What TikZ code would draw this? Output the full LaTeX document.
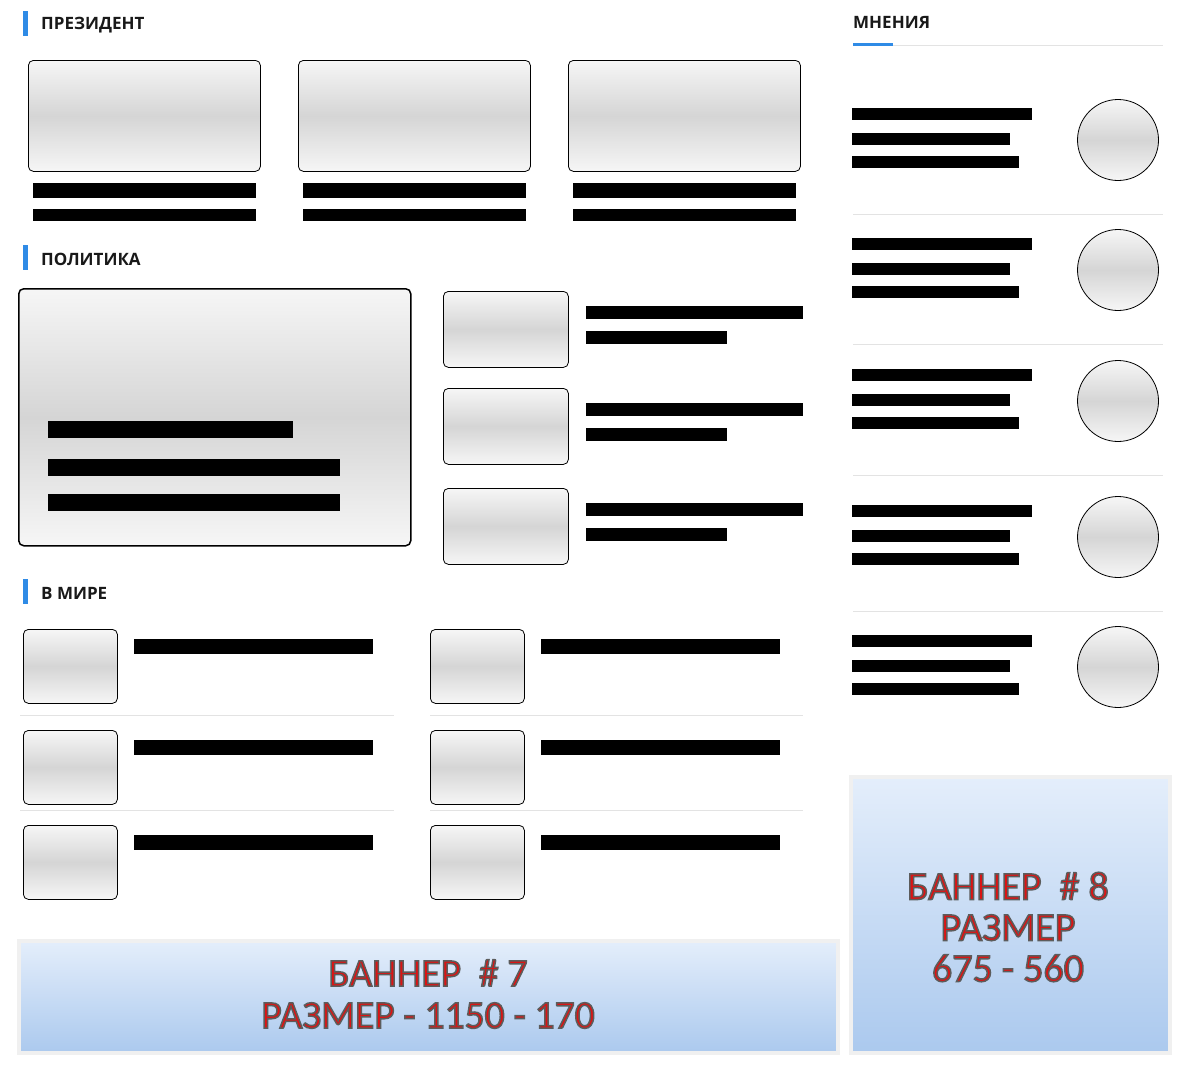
\documentclass[tikz,border=0pt]{standalone}
\usepackage{fontspec}
\setmainfont{Open Sans}
\newfontfamily\bannerfont{Carlito}
\usetikzlibrary{positioning}

\definecolor{accent}{HTML}{2F8BE6}
\definecolor{thlite}{HTML}{F6F6F6}
\definecolor{thmid}{HTML}{D5D5D5}
\definecolor{bantop}{HTML}{E4EEFB}
\definecolor{banbot}{HTML}{ABC9EE}
\definecolor{banred}{HTML}{DA1414}
\definecolor{rulegray}{HTML}{E3E3E3}

% outlined banner lettering (grey stroke, red fill)
\newcommand\outlined[1]{\special{pdf:literal direct 2 Tr 1.5 w 0.36 0.36 0.36 RG}#1\special{pdf:literal direct 0 Tr}}

\begin{document}
\begin{tikzpicture}
    [x=1pt, y=-1pt,
     thumb/.style={rectangle, draw=black, line width=0.8pt, rounded corners=5pt, top color=thlite, bottom color=thlite, middle color=thmid, anchor=north west, inner sep=0pt},
     face/.style={circle, draw=black, line width=0.8pt, top color=thlite, bottom color=thlite, middle color=thmid, minimum size=81pt, inner sep=0pt},
     bar/.style={rectangle, fill=black, anchor=north west, inner sep=0pt, minimum height=12pt},
     head/.style={anchor=west, inner sep=0pt, text=black!90, font=\bfseries\fontsize{17}{20}\selectfont},
     sep/.style={draw=rulegray, line width=1pt},
     banner/.style={rectangle, draw=black!6, line width=4pt, top color=bantop, bottom color=banbot, anchor=north west, inner sep=0pt},
     bantext/.style={align=center, text=banred, font=\bannerfont\fontsize{39.5}{42}\selectfont}]

    \fill [white] (0,0) rectangle (1186,1068);
    \useasboundingbox (0,0) rectangle (1186,1068);

    % president
    \fill [accent] (23,11) rectangle (27.5,36);
    \node [head] (hpres) at (41,25.5) {ПРЕЗИДЕНТ};
    \node [thumb, minimum width=232pt, minimum height=111pt] (pr1) at (28,60) {};
    \node [thumb, minimum width=232pt, minimum height=111pt] (pr2) at (298,60) {};
    \node [thumb, minimum width=232pt, minimum height=111pt] (pr3) at (568,60) {};
    \node [bar, minimum width=223pt, minimum height=14.5pt] (pr1a) at (33,183) {};
    \node [bar, minimum width=223pt] (pr1b) at (33,209) {};
    \node [bar, minimum width=223pt, minimum height=14.5pt] (pr2a) at (303,183) {};
    \node [bar, minimum width=223pt] (pr2b) at (303,209) {};
    \node [bar, minimum width=223pt, minimum height=14.5pt] (pr3a) at (573,183) {};
    \node [bar, minimum width=223pt] (pr3b) at (573,209) {};

    % politics
    \fill [accent] (23,245) rectangle (27.5,270);
    \node [head] (hpol) at (41,259.5) {ПОЛИТИКА};
    \node [thumb, line width=1.5pt, minimum width=392pt, minimum height=257pt] (big) at (18,288) {};
    \node [bar, minimum width=245pt, minimum height=17pt] (biga) at (48,421) {};
    \node [bar, minimum width=292pt, minimum height=17pt] (bigb) at (48,459) {};
    \node [bar, minimum width=292pt, minimum height=17pt] (bigc) at (48,494) {};
    \node [thumb, minimum width=125pt, minimum height=76pt] (po1) at (443,291) {};
    \node [thumb, minimum width=125pt, minimum height=76pt] (po2) at (443,388) {};
    \node [thumb, minimum width=125pt, minimum height=76pt] (po3) at (443,488) {};
    \node [bar, minimum width=217pt, minimum height=13pt] (po1a) at (586,306) {};
    \node [bar, minimum width=141pt, minimum height=13pt] (po1b) at (586,331) {};
    \node [bar, minimum width=217pt, minimum height=13pt] (po2a) at (586,403) {};
    \node [bar, minimum width=141pt, minimum height=13pt] (po2b) at (586,428) {};
    \node [bar, minimum width=217pt, minimum height=13pt] (po3a) at (586,503) {};
    \node [bar, minimum width=141pt, minimum height=13pt] (po3b) at (586,528) {};

    % world
    \fill [accent] (23,579) rectangle (27.5,604);
    \node [head] (hworld) at (41,593.5) {В МИРЕ};
    \node [thumb, minimum width=94pt, minimum height=74pt] (wl1) at (23,629) {};
    \node [thumb, minimum width=94pt, minimum height=74pt] (wl2) at (23,730) {};
    \node [thumb, minimum width=94pt, minimum height=74pt] (wl3) at (23,825) {};
    \node [thumb, minimum width=94pt, minimum height=74pt] (wr1) at (430,629) {};
    \node [thumb, minimum width=94pt, minimum height=74pt] (wr2) at (430,730) {};
    \node [thumb, minimum width=94pt, minimum height=74pt] (wr3) at (430,825) {};
    \node [bar, minimum width=239pt, minimum height=15pt] (wl1a) at (134,639) {};
    \node [bar, minimum width=239pt, minimum height=15pt] (wl2a) at (134,740) {};
    \node [bar, minimum width=239pt, minimum height=15pt] (wl3a) at (134,835) {};
    \node [bar, minimum width=239pt, minimum height=15pt] (wr1a) at (541,639) {};
    \node [bar, minimum width=239pt, minimum height=15pt] (wr2a) at (541,740) {};
    \node [bar, minimum width=239pt, minimum height=15pt] (wr3a) at (541,835) {};
    \draw [sep] (20,715) -- (394,715);
    \draw [sep] (20,810) -- (394,810);
    \draw [sep] (430,715) -- (803,715);
    \draw [sep] (430,810) -- (803,810);

    % opinions
    \node [head] (hop) at (853,22.5) {МНЕНИЯ};
    \draw [sep] (853,45) -- (1163,45);
    \fill [accent] (853,43) rectangle (893,46);
    \node [bar, minimum width=180pt] (op1a) at (852,108) {};
    \node [bar, minimum width=158pt] (op1b) at (852,133) {};
    \node [bar, minimum width=167pt] (op1c) at (852,156) {};
    \node [face] (op1) at (1118,140) {};
    \draw [sep] (853,214) -- (1163,214);
    \node [bar, minimum width=180pt] (op2a) at (852,238) {};
    \node [bar, minimum width=158pt] (op2b) at (852,263) {};
    \node [bar, minimum width=167pt] (op2c) at (852,286) {};
    \node [face] (op2) at (1118,270) {};
    \draw [sep] (853,344) -- (1163,344);
    \node [bar, minimum width=180pt] (op3a) at (852,369) {};
    \node [bar, minimum width=158pt] (op3b) at (852,394) {};
    \node [bar, minimum width=167pt] (op3c) at (852,417) {};
    \node [face] (op3) at (1118,401) {};
    \draw [sep] (853,475) -- (1163,475);
    \node [bar, minimum width=180pt] (op4a) at (852,505) {};
    \node [bar, minimum width=158pt] (op4b) at (852,530) {};
    \node [bar, minimum width=167pt] (op4c) at (852,553) {};
    \node [face] (op4) at (1118,537) {};
    \draw [sep] (853,611) -- (1163,611);
    \node [bar, minimum width=180pt] (op5a) at (852,635) {};
    \node [bar, minimum width=158pt] (op5b) at (852,660) {};
    \node [bar, minimum width=167pt] (op5c) at (852,683) {};
    \node [face] (op5) at (1118,667) {};

    % banners
    \node [banner, minimum width=819pt, minimum height=112pt] (ban7) at (17,939) {};
    \node [bantext] (ban7t) at (428,994) {\outlined{БАННЕР \ \# 7}\\ \outlined{РАЗМЕР - 1150 - 170}};
    \node [banner, minimum width=319pt, minimum height=276pt] (ban8) at (849,775) {};
    \node [bantext, font=\bannerfont\fontsize{40}{41}\selectfont] (ban8t) at (1008,927) {\outlined{БАННЕР \ \# 8}\\ \outlined{РАЗМЕР}\\ \outlined{675 - 560}};
\end{tikzpicture}
\end{document}
